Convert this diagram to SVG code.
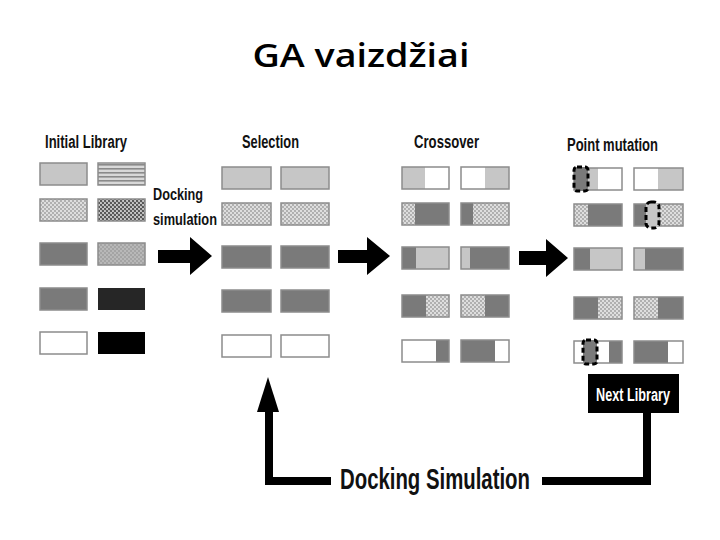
<svg xmlns="http://www.w3.org/2000/svg" width="720" height="540" viewBox="0 0 720 540">
<defs>
<pattern id="stripes" width="4" height="4" patternUnits="userSpaceOnUse"><rect width="4" height="4" fill="#d8d8d8"/><rect y="0" width="4" height="1.6" fill="#8a8a8a"/></pattern>
<pattern id="dotsL" width="4" height="4" patternUnits="userSpaceOnUse"><rect width="4" height="4" fill="#dedede"/><circle cx="1" cy="1" r="0.9" fill="#9a9a9a"/><circle cx="3" cy="3" r="0.9" fill="#9a9a9a"/></pattern>
<pattern id="dotsD" width="4" height="4" patternUnits="userSpaceOnUse"><rect width="4" height="4" fill="#c8c8c8"/><circle cx="1" cy="1" r="1.2" fill="#555"/><circle cx="3" cy="3" r="1.2" fill="#555"/></pattern>
<pattern id="dotsM" width="4" height="4" patternUnits="userSpaceOnUse"><rect width="4" height="4" fill="#b8b8b8"/><circle cx="1" cy="1" r="0.8" fill="#8a8a8a"/><circle cx="3" cy="3" r="0.8" fill="#8a8a8a"/></pattern>
</defs>
<style>
.hd{font-family:"Liberation Sans Narrow","Liberation Sans",Arial,sans-serif;font-weight:bold;fill:#111}
.t{font-family:"Open Sans","Noto Sans",sans-serif;font-weight:600;font-size:33px;fill:#000}
.lt{fill:#c6c6c6}
.dk{fill:#7a7a7a}
.wh{fill:#fff}
.dl{fill:url(#dotsL)}
.ol{fill:none;stroke:#8c8c8c;stroke-width:1.5}
.mut{stroke:#000;stroke-width:3;stroke-dasharray:5 3}
</style>
<rect width="720" height="540" fill="#fff"/>
<text class="t" x="361" y="67" text-anchor="middle" textLength="217" lengthAdjust="spacingAndGlyphs">GA vaizdžiai</text>

<g id="initial-library">
<text class="hd" x="45" y="148" font-size="18" textLength="82" lengthAdjust="spacingAndGlyphs">Initial Library</text>
<rect x="40" y="163" width="47" height="22" class="lt"/><rect x="40" y="163" width="47" height="22" class="ol"/>
<rect x="98" y="163" width="47" height="22" fill="url(#stripes)"/><rect x="98" y="163" width="47" height="22" class="ol"/>
<rect x="40" y="199" width="47" height="22" class="dl"/><rect x="40" y="199" width="47" height="22" class="ol"/>
<rect x="98" y="199" width="47" height="22" fill="url(#dotsD)"/><rect x="98" y="199" width="47" height="22" class="ol"/>
<rect x="40" y="243" width="47" height="22" class="dk"/><rect x="40" y="243" width="47" height="22" class="ol"/>
<rect x="98" y="243" width="47" height="22" fill="url(#dotsM)"/><rect x="98" y="243" width="47" height="22" class="ol"/>
<rect x="40" y="288" width="47" height="22" class="dk"/><rect x="40" y="288" width="47" height="22" class="ol"/>
<rect x="98" y="288" width="47" height="22" fill="#262626"/>
<rect x="40" y="332" width="47" height="22" class="wh"/><rect x="40" y="332" width="47" height="22" class="ol"/>
<rect x="98" y="332" width="47" height="22" fill="#000"/>
</g>

<g id="selection">
<text class="hd" x="242" y="148" font-size="18" textLength="57" lengthAdjust="spacingAndGlyphs">Selection</text>
<rect x="222" y="167" width="49" height="22" class="lt"/><rect x="222" y="167" width="49" height="22" class="ol"/>
<rect x="281" y="167" width="48" height="22" class="lt"/><rect x="281" y="167" width="48" height="22" class="ol"/>
<rect x="222" y="203" width="49" height="22" class="dl"/><rect x="222" y="203" width="49" height="22" class="ol"/>
<rect x="281" y="203" width="48" height="22" class="dl"/><rect x="281" y="203" width="48" height="22" class="ol"/>
<rect x="222" y="246" width="49" height="22" class="dk"/><rect x="222" y="246" width="49" height="22" class="ol"/>
<rect x="281" y="246" width="48" height="22" class="dk"/><rect x="281" y="246" width="48" height="22" class="ol"/>
<rect x="222" y="290" width="49" height="22" class="dk"/><rect x="222" y="290" width="49" height="22" class="ol"/>
<rect x="281" y="290" width="48" height="22" class="dk"/><rect x="281" y="290" width="48" height="22" class="ol"/>
<rect x="222" y="335" width="49" height="22" class="wh"/><rect x="222" y="335" width="49" height="22" class="ol"/>
<rect x="281" y="335" width="48" height="22" class="wh"/><rect x="281" y="335" width="48" height="22" class="ol"/>
</g>

<g id="crossover">
<text class="hd" x="414" y="148" font-size="18" textLength="65" lengthAdjust="spacingAndGlyphs">Crossover</text>
<rect x="402" y="167" width="23" height="22" class="lt"/><rect x="425" y="167" width="24" height="22" class="wh"/><rect x="402" y="167" width="47" height="22" class="ol"/>
<rect x="461" y="167" width="24" height="22" class="wh"/><rect x="485" y="167" width="24" height="22" class="lt"/><rect x="461" y="167" width="48" height="22" class="ol"/>
<rect x="402" y="203" width="13" height="22" class="dl"/><rect x="415" y="203" width="34" height="22" class="dk"/><rect x="402" y="203" width="47" height="22" class="ol"/>
<rect x="461" y="203" width="12" height="22" class="dk"/><rect x="473" y="203" width="36" height="22" class="dl"/><rect x="461" y="203" width="48" height="22" class="ol"/>
<rect x="402" y="247" width="14" height="22" class="dk"/><rect x="416" y="247" width="33" height="22" class="lt"/><rect x="402" y="247" width="47" height="22" class="ol"/>
<rect x="461" y="247" width="9" height="22" class="lt"/><rect x="470" y="247" width="39" height="22" class="dk"/><rect x="461" y="247" width="48" height="22" class="ol"/>
<rect x="402" y="295" width="24" height="22" class="dk"/><rect x="426" y="295" width="23" height="22" class="dl"/><rect x="402" y="295" width="47" height="22" class="ol"/>
<rect x="461" y="295" width="24" height="22" class="dl"/><rect x="485" y="295" width="24" height="22" class="dk"/><rect x="461" y="295" width="48" height="22" class="ol"/>
<rect x="402" y="340" width="34" height="22" class="wh"/><rect x="436" y="340" width="13" height="22" class="dk"/><rect x="402" y="340" width="47" height="22" class="ol"/>
<rect x="461" y="340" width="34" height="22" class="dk"/><rect x="495" y="340" width="14" height="22" class="wh"/><rect x="461" y="340" width="48" height="22" class="ol"/>
</g>

<g id="point-mutation">
<text class="hd" x="567" y="151" font-size="18" textLength="91" lengthAdjust="spacingAndGlyphs">Point mutation</text>
<rect x="588" y="168" width="10" height="22" class="lt"/><rect x="598" y="168" width="24" height="22" class="wh"/><rect x="574" y="168" width="48" height="22" class="ol"/>
<rect x="574" y="167" width="14" height="24" rx="3" class="dk mut"/>
<rect x="634" y="168" width="24" height="22" class="wh"/><rect x="658" y="168" width="25" height="22" class="lt"/><rect x="634" y="168" width="49" height="22" class="ol"/>
<rect x="574" y="204" width="14" height="22" class="dl"/><rect x="588" y="204" width="34" height="22" class="dk"/><rect x="574" y="204" width="48" height="22" class="ol"/>
<rect x="634" y="204" width="12" height="22" class="dk"/><rect x="646" y="204" width="37" height="22" class="dl"/><rect x="634" y="204" width="49" height="22" class="ol"/>
<rect x="646" y="202" width="13" height="26" rx="5" class="lt mut"/>
<rect x="574" y="248" width="16" height="22" class="dk"/><rect x="590" y="248" width="32" height="22" class="lt"/><rect x="574" y="248" width="48" height="22" class="ol"/>
<rect x="634" y="248" width="11" height="22" class="lt"/><rect x="645" y="248" width="38" height="22" class="dk"/><rect x="634" y="248" width="49" height="22" class="ol"/>
<rect x="574" y="297" width="24" height="22" class="dk"/><rect x="598" y="297" width="24" height="22" class="dl"/><rect x="574" y="297" width="48" height="22" class="ol"/>
<rect x="634" y="297" width="24" height="22" class="dl"/><rect x="658" y="297" width="25" height="22" class="dk"/><rect x="634" y="297" width="49" height="22" class="ol"/>
<rect x="574" y="341" width="35" height="22" class="wh"/><rect x="609" y="341" width="13" height="22" class="dk"/><rect x="574" y="341" width="48" height="22" class="ol"/>
<rect x="583" y="340" width="14" height="24" rx="3" class="dk mut"/>
<rect x="634" y="341" width="34" height="22" class="dk"/><rect x="668" y="341" width="15" height="22" class="wh"/><rect x="634" y="341" width="49" height="22" class="ol"/>
</g>

<g id="next-library">
<rect x="588" y="374" width="91" height="39" fill="#000"/>
<text class="hd" x="633" y="401" font-size="18" text-anchor="middle" textLength="74" lengthAdjust="spacingAndGlyphs" style="fill:#fff">Next Library</text>
</g>

<g id="connectors">
<text class="hd" x="153" y="200" font-size="16" textLength="50" lengthAdjust="spacingAndGlyphs">Docking</text>
<text class="hd" x="153" y="225" font-size="16" textLength="64" lengthAdjust="spacingAndGlyphs">simulation</text>
<polygon points="158,250 190,250 190,237 212,256 190,275 190,263 158,263" fill="#000"/>
<polygon points="338,250 367,250 367,237 390,256 367,275 367,263 338,263" fill="#000"/>
<polygon points="519,251 546,251 546,239 568,258 546,277 546,265 519,265" fill="#000"/>
<path d="M647,413 V481 H542 M331,481 H269 V408" fill="none" stroke="#000" stroke-width="8"/>
<polygon points="257,412 268,377 279,412" fill="#000"/>
<text class="hd" x="340" y="489" font-size="30" textLength="190" lengthAdjust="spacingAndGlyphs">Docking Simulation</text>
</g>
</svg>
